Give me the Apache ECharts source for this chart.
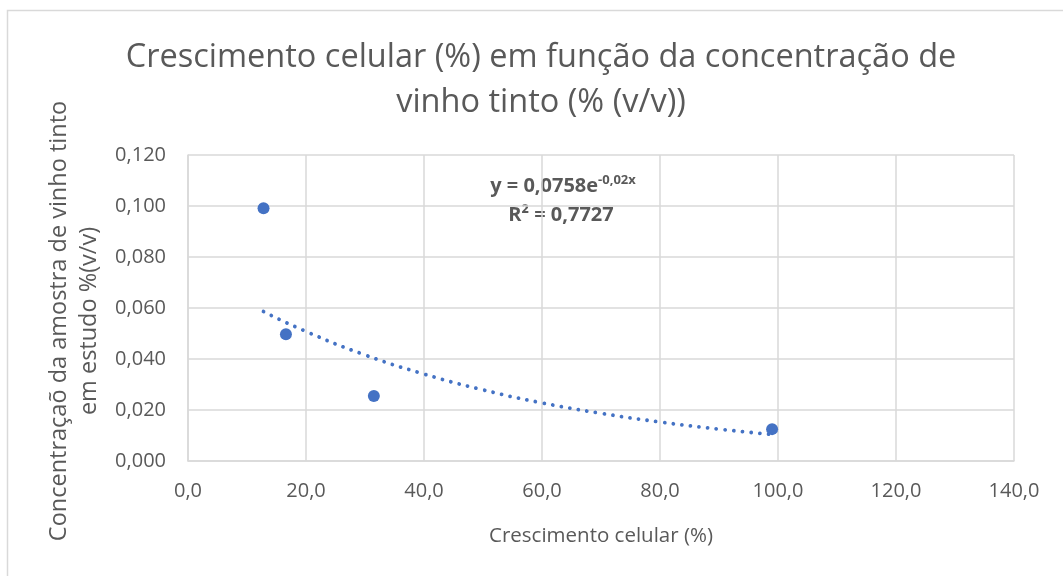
<!DOCTYPE html>
<html>
<head>
<meta charset="utf-8">
<script src="https://cdn.jsdelivr.net/npm/echarts@6/dist/echarts.min.js"></script>
<style>html,body{margin:0;padding:0;background:#fff}#c{width:1063px;height:576px}</style>
</head>
<body>
<div id="c"></div>
<script>
var pointsX = [12.8, 16.6, 31.5, 99.0];
var pointsY = [0.0991, 0.0497, 0.0255, 0.0125];
var trendX = [12.8, 20, 30, 40, 50, 60, 70, 80, 90, 99.0];
var trendY = [0.0586, 0.0508, 0.0416, 0.0341, 0.0279, 0.0228, 0.0187, 0.0153, 0.0125, 0.0104];
var xTicks = ['0,0','20,0','40,0','60,0','80,0','100,0','120,0','140,0'];
var yTicks = ['0,000','0,020','0,040','0,060','0,080','0,100','0,120'];

var FONT = '"Open Sans", sans-serif';
var TXT = '#595959';
var GRID = '#d9d9d9';
var BLUE = '#4472C4';

var chart = echarts.init(document.getElementById('c'), null, {renderer: 'canvas'});
chart.setOption({
  backgroundColor: '#fff',
  animation: false,
  title: {
    text: 'Crescimento celular (%) em função da concentração de\nvinho tinto (% (v/v))',
    left: 536, top: 30, textAlign: 'center',
    textStyle: {fontFamily: FONT, fontSize: 32.5, fontWeight: 'normal', color: TXT, lineHeight: 45}
  },
  grid: {left: 188, right: 49, top: 155, bottom: 115},
  xAxis: {
    type: 'value', min: 0, max: 140, interval: 20,
    name: 'Crescimento celular (%)', nameLocation: 'middle', nameGap: 65,
    nameTextStyle: {fontFamily: FONT, fontSize: 20.5, color: TXT},
    axisLine: {show: true, lineStyle: {color: GRID, width: 1.5}},
    axisTick: {show: false},
    axisLabel: {fontFamily: FONT, fontSize: 20, color: TXT, margin: 20,
      formatter: function (v) { return xTicks[Math.round(v / 20)]; }},
    splitLine: {show: true, lineStyle: {color: GRID, width: 1.5}}
  },
  yAxis: {
    type: 'value', min: 0, max: 0.12, interval: 0.02,
    name: 'Concentraçaõ da amostra de vinho tinto\nem estudo %(v/v)', nameLocation: 'middle', nameGap: 84,
    nameTextStyle: {fontFamily: FONT, fontSize: 23.5, color: TXT, lineHeight: 30, padding: [0, 26, 0, 0]},
    axisLine: {show: true, lineStyle: {color: GRID, width: 1.5}},
    axisTick: {show: false},
    axisLabel: {fontFamily: FONT, fontSize: 20, color: TXT, margin: 22,
      formatter: function (v) { return yTicks[Math.round(v / 0.02)]; }},
    splitLine: {show: true, lineStyle: {color: GRID, width: 1.5}}
  },
  series: [
    {
      type: 'line', name: 'trend', smooth: true, showSymbol: false, symbol: 'none',
      data: trendX.map(function (x, i) { return [x, trendY[i]]; }),
      lineStyle: {color: BLUE, width: 3.8, type: [0.01, 8.7], cap: 'round'},
      z: 2
    },
    {
      type: 'scatter', name: 'dados', symbol: 'circle', symbolSize: 12,
      data: pointsX.map(function (x, i) { return [x, pointsY[i]]; }),
      itemStyle: {color: BLUE, opacity: 1}, z: 3
    }
  ],
  graphic: [
    {type: 'rect', shape: {x: 7.5, y: 10.5, width: 1200, height: 700}, style: {fill: 'none', stroke: GRID, lineWidth: 1.5}, silent: true, z: -1},
    {type: 'text', x: 563, y: 186, style: {
      rich: {
        b: {fontFamily: FONT, fontSize: 20, fontWeight: 'bold', fill: TXT},
        s: {fontFamily: FONT, fontSize: 13, fontWeight: 'bold', fill: TXT, verticalAlign: 'top', padding: [0,0,11,0]}
      },
      text: '{b|y = 0,0758e}{s|-0,02x}', align: 'center', verticalAlign: 'middle'
    }},
    {type: 'text', x: 561, y: 215, style: {
      fontFamily: FONT, fontSize: 20, fontWeight: 'bold', fill: TXT,
      text: 'R² = 0,7727', align: 'center', verticalAlign: 'middle'
    }}
  ]
});
</script>
</body>
</html>
